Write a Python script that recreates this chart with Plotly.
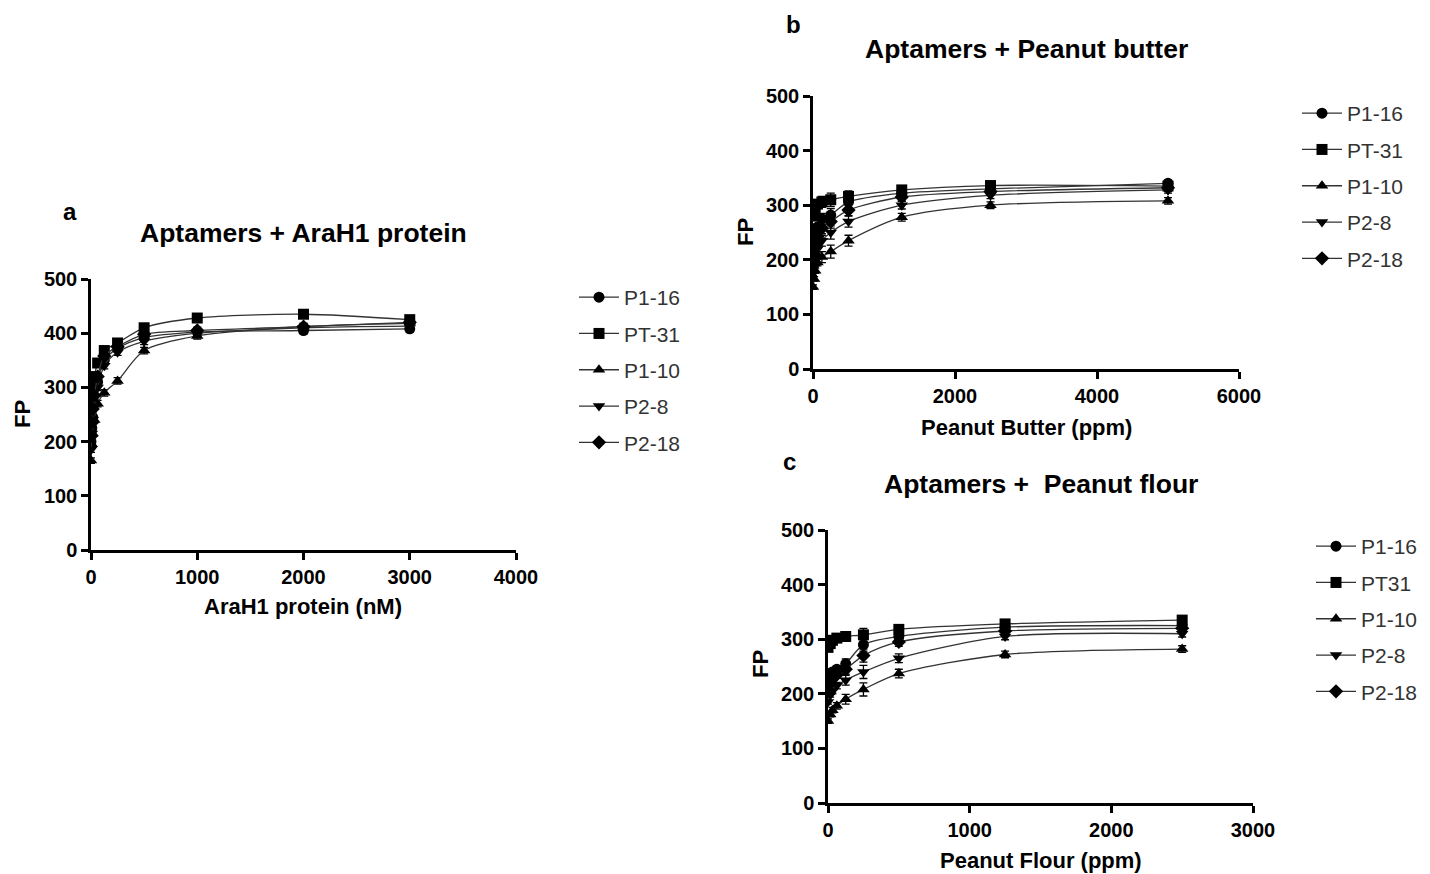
import plotly.graph_objects as go

W, H = 1430, 874

series_names_ab = ["P1-16", "PT-31", "P1-10", "P2-8", "P2-18"]
series_names_c = ["P1-16", "PT31", "P1-10", "P2-8", "P2-18"]
symbols = ["circle", "square", "triangle-up", "triangle-down", "diamond"]

# ---- Panel a: Aptamers + AraH1 protein (nM)
x_a = [0, 7.8, 15.6, 31.25, 62.5, 125, 250, 500, 1000, 2000, 3000]
a_P1_16 = [200, 225, 245, 270, 310, 350, 372, 392, 402, 405, 408]
a_PT_31 = [290, 295, 300, 320, 345, 368, 382, 410, 428, 435, 425]
a_P1_10 = [165, 195, 215, 240, 270, 290, 312, 368, 395, 412, 418]
a_P2_8 = [185, 215, 240, 265, 300, 340, 365, 385, 400, 410, 413]
a_P2_18 = [210, 235, 260, 285, 320, 358, 375, 398, 405, 412, 420]
err_a = [5, 5, 5, 5, 6, 6, 6, 6, 6, 6, 6]

# ---- Panel b: Aptamers + Peanut butter (ppm)
x_b = [0, 15.6, 31.25, 62.5, 125, 250, 500, 1250, 2500, 5000]
b_P1_16 = [200, 225, 245, 260, 275, 282, 306, 322, 330, 340]
b_PT_31 = [280, 288, 296, 302, 306, 310, 316, 328, 336, 335]
b_P1_10 = [150, 165, 180, 195, 205, 215, 235, 278, 300, 308]
b_P2_8 = [175, 190, 205, 220, 235, 250, 270, 300, 318, 328]
b_P2_18 = [190, 210, 228, 242, 258, 270, 291, 315, 325, 332]
err_b = [4, 4, 5, 6, 10, 12, 10, 7, 6, 6]

# ---- Panel c: Aptamers + Peanut flour (ppm)
x_c = [0, 15.6, 31.25, 62.5, 125, 250, 500, 1250, 2500]
c_P1_16 = [220, 232, 240, 245, 255, 290, 305, 322, 325]
c_PT31 = [285, 292, 298, 302, 305, 308, 318, 328, 335]
c_P1_10 = [150, 162, 170, 178, 190, 208, 237, 272, 282]
c_P2_8 = [185, 198, 205, 215, 225, 240, 265, 305, 310]
c_P2_18 = [205, 218, 228, 235, 245, 270, 295, 315, 320]
err_c = [4, 4, 5, 6, 9, 12, 8, 6, 6]

panels = [
    dict(x=x_a, ys=[a_P1_16, a_PT_31, a_P1_10, a_P2_8, a_P2_18], err=err_a,
         names=series_names_ab, xa="x", ya="y", legend="legend"),
    dict(x=x_b, ys=[b_P1_16, b_PT_31, b_P1_10, b_P2_8, b_P2_18], err=err_b,
         names=series_names_ab, xa="x2", ya="y2", legend="legend2"),
    dict(x=x_c, ys=[c_P1_16, c_PT31, c_P1_10, c_P2_8, c_P2_18], err=err_c,
         names=series_names_c, xa="x3", ya="y3", legend="legend3"),
]

fig = go.Figure()
for pi, p in enumerate(panels):
    for si, (name, ys) in enumerate(zip(p["names"], p["ys"])):
        fig.add_trace(go.Scatter(
            x=p["x"], y=ys, name=name, mode="lines+markers",
            xaxis=p["xa"], yaxis=p["ya"], legend=p["legend"],
            legendgroup=f"{pi}_{si}",
            line=dict(color="#333333", width=1.3, shape="spline", smoothing=0.8),
            marker=dict(symbol=symbols[si], size=11, color="black"),
            error_y=dict(type="data", array=p["err"], color="black",
                         thickness=1.3, width=4),
        ))

FONT = "Arial, 'Liberation Sans', sans-serif"

def px_dom_x(a, b):
    return [a / W, b / W]

def px_dom_y(top, bottom):
    return [(H - bottom) / H, (H - top) / H]

axis_common = dict(
    showline=True, linecolor="black", linewidth=2.5, mirror=False,
    ticks="outside", ticklen=7, tickwidth=2.5, tickcolor="black",
    showgrid=False, zeroline=False,
    tickfont=dict(family=FONT, size=20, color="black", weight="bold"),
)

fig.update_layout(
    width=W, height=H, margin=dict(l=0, r=0, t=0, b=0, autoexpand=False),
    paper_bgcolor="white", plot_bgcolor="white", showlegend=True,
    xaxis=dict(domain=px_dom_x(91, 516), range=[0, 4000], dtick=1000,
               anchor="y", **axis_common),
    yaxis=dict(domain=px_dom_y(279, 550), range=[0, 500], dtick=100,
               anchor="x", **axis_common),
    xaxis2=dict(domain=px_dom_x(813, 1239), range=[0, 6000], dtick=2000,
                anchor="y2", **axis_common),
    yaxis2=dict(domain=px_dom_y(96, 369), range=[0, 500], dtick=100,
                anchor="x2", **axis_common),
    xaxis3=dict(domain=px_dom_x(828, 1253), range=[0, 3000], dtick=1000,
                anchor="y3", **axis_common),
    yaxis3=dict(domain=px_dom_y(530, 803), range=[0, 500], dtick=100,
                anchor="x3", **axis_common),
)

leg_common = dict(
    xanchor="left", yanchor="top", bgcolor="rgba(0,0,0,0)",
    font=dict(family=FONT, size=21, color="#333333"),
    tracegroupgap=6, itemwidth=40,
)
fig.update_layout(
    legend=dict(x=574 / W, y=(H - 277) / H, **leg_common),
    legend2=dict(x=1297 / W, y=(H - 93) / H, **leg_common),
    legend3=dict(x=1311 / W, y=(H - 526) / H, **leg_common),
)

def ann(text, x, y, size, weight="bold", angle=0, color="black"):
    fig.add_annotation(
        text=text, x=x / W, y=(H - y) / H, xref="paper", yref="paper",
        xanchor="center", yanchor="middle", showarrow=False, textangle=angle,
        font=dict(family=FONT, size=size, color=color, weight=weight),
    )

# panel letters
ann("a", 70, 211, 24)
ann("b", 793, 25, 24)
ann("c", 790, 462, 24)
# titles
ann("Aptamers + AraH1 protein", 303, 233, 26.5)
ann("Aptamers + Peanut butter", 1026, 49, 26.5)
ann("Aptamers +  Peanut flour", 1041, 484, 26.5)
# axis titles
ann("AraH1 protein (nM)", 303, 606, 22)
ann("Peanut Butter (ppm)", 1026, 427, 22)
ann("Peanut Flour (ppm)", 1041, 860, 22)
ann("FP", 22, 414, 22, angle=-90)
ann("FP", 745, 232, 22, angle=-90)
ann("FP", 760, 664, 22, angle=-90)

fig.write_html("out.html")
